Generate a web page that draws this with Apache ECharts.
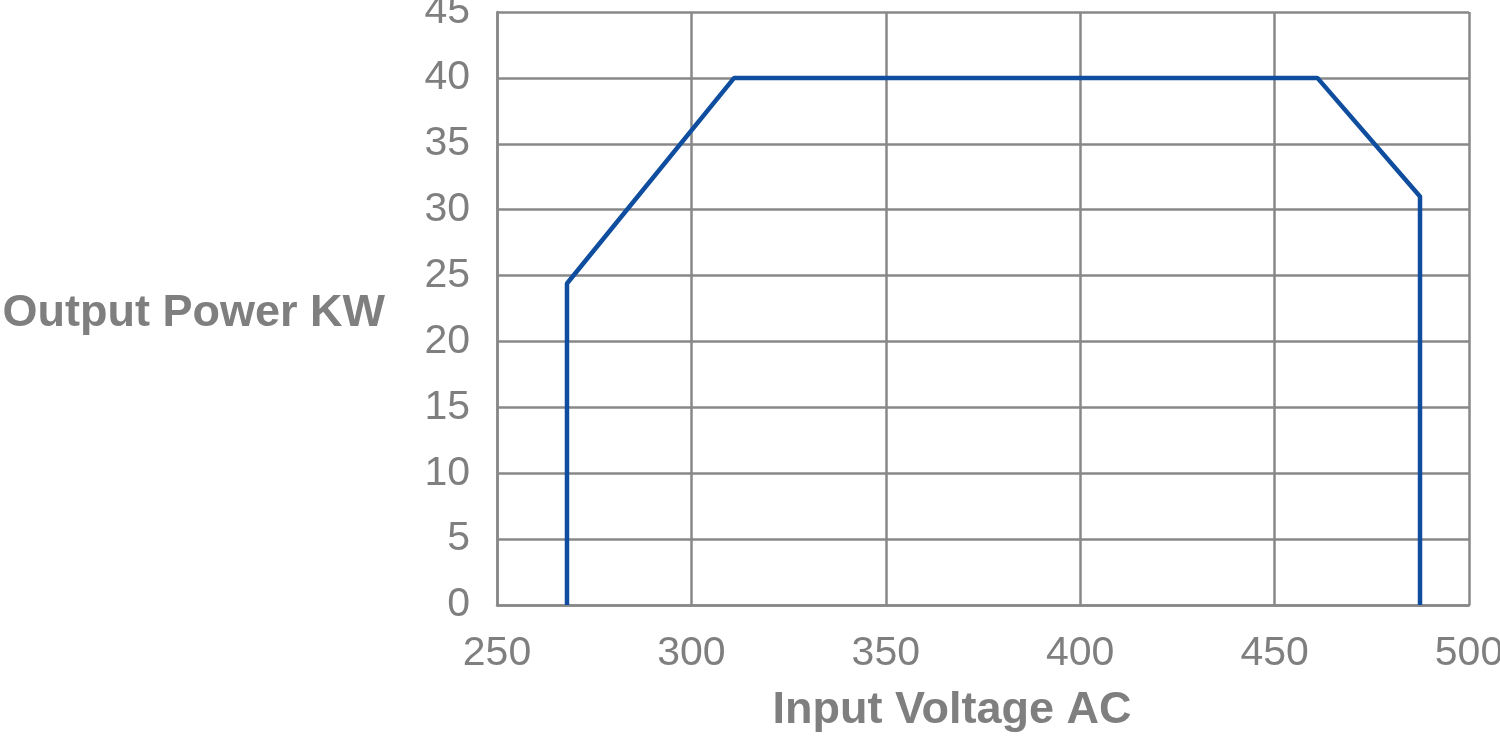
<!DOCTYPE html>
<html>
<head>
<meta charset="utf-8">
<script src="https://cdn.jsdelivr.net/npm/echarts@6/dist/echarts.min.js"></script>
<style>
  html, body { margin: 0; padding: 0; background: #fff; }
  #chart { width: 1500px; height: 737px; }
</style>
</head>
<body>
<div id="chart"></div>
<script>
// derating curve
const voltage = [268, 268, 311, 461, 487.4, 487.4]
const power = [0, 24.4, 40, 40, 31, 0]

const grey = '#888888'
const textGrey = '#7f7f7f'
const font = '"Liberation Sans", Arial, sans-serif'

const chart = echarts.init(document.getElementById('chart'))
chart.setOption({
  animation: false,
  grid: { left: 497, right: 31, top: 12, bottom: 132, outerBoundsMode: 'none', containLabel: false },
  xAxis: {
    type: 'value',
    min: 250,
    max: 500,
    interval: 50,
    name: 'Input Voltage AC',
    nameLocation: 'middle',
    nameGap: 83,
    nameTextStyle: { color: textGrey, fontSize: 45, fontWeight: 'bold', fontFamily: font, padding: [0, 62, 0, 0] },
    axisLine: { lineStyle: { color: grey, width: 2.5 } },
    axisTick: { show: false },
    axisLabel: { color: textGrey, fontSize: 41, fontFamily: font, margin: 28 },
    splitLine: { lineStyle: { color: grey, width: 2.5 } }
  },
  yAxis: {
    type: 'value',
    min: 0,
    max: 45,
    interval: 5,
    name: 'Output Power KW',
    nameLocation: 'middle',
    nameRotate: 0,
    nameGap: 112,
    nameTextStyle: { color: textGrey, fontSize: 45, fontWeight: 'bold', fontFamily: font, verticalAlign: 'top', lineHeight: 10 },
    axisLine: { show: true, lineStyle: { color: grey, width: 2.5 } },
    axisTick: { show: false },
    axisLabel: { color: textGrey, fontSize: 41, fontFamily: font, margin: 27 },
    splitLine: { lineStyle: { color: grey, width: 2.5 } }
  },
  series: [{
    type: 'line',
    data: voltage.map((v, i) => [v, power[i]]),
    showSymbol: false,
    lineStyle: { color: '#0f4d9f', width: 4.5 },
    z: 5
  }]
})
</script>
</body>
</html>
